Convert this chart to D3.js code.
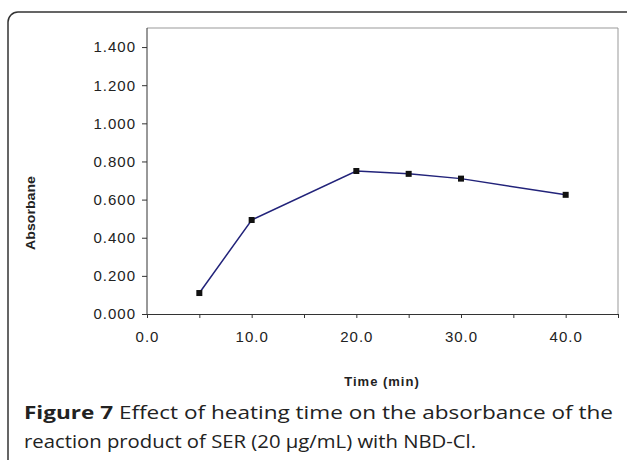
<!DOCTYPE html><html><head><script src="https://cdn.jsdelivr.net/npm/d3@7"></script>
<style>body{margin:0;background:#fff}</style></head><body><svg id="c" width="627" height="460"></svg>
<script>
const times=[5,10,20,25,30,40];
const absorb=[0.110,0.493,0.750,0.735,0.710,0.625];
const yTicks=[0,0.2,0.4,0.6,0.8,1.0,1.2,1.4];
const xTicks=[0,10,20,30,40];
const svg=d3.select("#c");
svg.append("rect").attr("x",8).attr("y",12).attr("width",640).attr("height",470).attr("rx",10).attr("fill","none").attr("stroke","#333").attr("stroke-width",1.5);
const x=d3.scaleLinear().domain([0,45]).range([147,618]);
const y=d3.scaleLinear().domain([0,1.5]).range([314,28]);
svg.append("path").attr("d",`M147,28H618V314`).attr("fill","none").attr("stroke","#999");
const ya=svg.append("g").attr("transform","translate(147,0)").call(d3.axisLeft(y).tickValues(yTicks).tickFormat(d3.format(".3f")).tickSize(5).tickPadding(6).tickSizeOuter(0));
const xa=svg.append("g").attr("transform","translate(0,314)").call(d3.axisBottom(x).tickValues(d3.range(0,50,5)).tickFormat(d=>d%10===0?d3.format(".1f")(d):"").tickSize(4).tickSizeOuter(0));
[ya,xa].forEach(a=>{a.attr("font-size",null);a.selectAll("text").style("font-family","Liberation Sans, Arial").style("font-size","15px").style("letter-spacing","1px").attr("fill","#222");a.selectAll("path,line").attr("stroke","#333");});
ya.select(".domain").attr("d","M0,28V314");
xa.selectAll("text").attr("dy","1.4em");
svg.append("path").datum(times.map((t,i)=>[t,absorb[i]])).attr("d",d3.line().x(d=>x(d[0])).y(d=>y(d[1]))).attr("fill","none").attr("stroke","#22237a").attr("stroke-width",1.5);
svg.selectAll("rect.m").data(times).join("rect").attr("class","m").attr("x",(d)=>x(d)-3).attr("y",(d,i)=>y(absorb[i])-3).attr("width",6).attr("height",6).attr("fill","#111");
svg.append("text").attr("x",382).attr("y",386).attr("text-anchor","middle").style("font-family","Liberation Sans, Arial").attr("font-weight","bold").style("font-size","13px").style("letter-spacing","1px").attr("fill","#222").text("Time (min)");
svg.append("text").attr("transform","translate(35,213) rotate(-90)").attr("text-anchor","middle").style("font-family","Liberation Sans, Arial").attr("font-weight","bold").style("font-size","12px").attr("textLength",74).attr("lengthAdjust","spacingAndGlyphs").attr("fill","#222").text("Absorbane");
const c1=svg.append("text").attr("x",24).attr("y",419).style("font-family","Open Sans, sans-serif").style("font-size","18px").attr("fill","#222").attr("textLength",589).attr("lengthAdjust","spacingAndGlyphs");
c1.append("tspan").attr("font-weight","bold").text("Figure 7 ");
c1.append("tspan").text("Effect of heating time on the absorbance of the");
svg.append("text").attr("x",24).attr("y",448).style("font-family","Open Sans, sans-serif").style("font-size","18px").attr("fill","#222").attr("textLength",452).attr("lengthAdjust","spacingAndGlyphs").text("reaction product of SER (20 μg/mL) with NBD-Cl.");
</script></body></html>
